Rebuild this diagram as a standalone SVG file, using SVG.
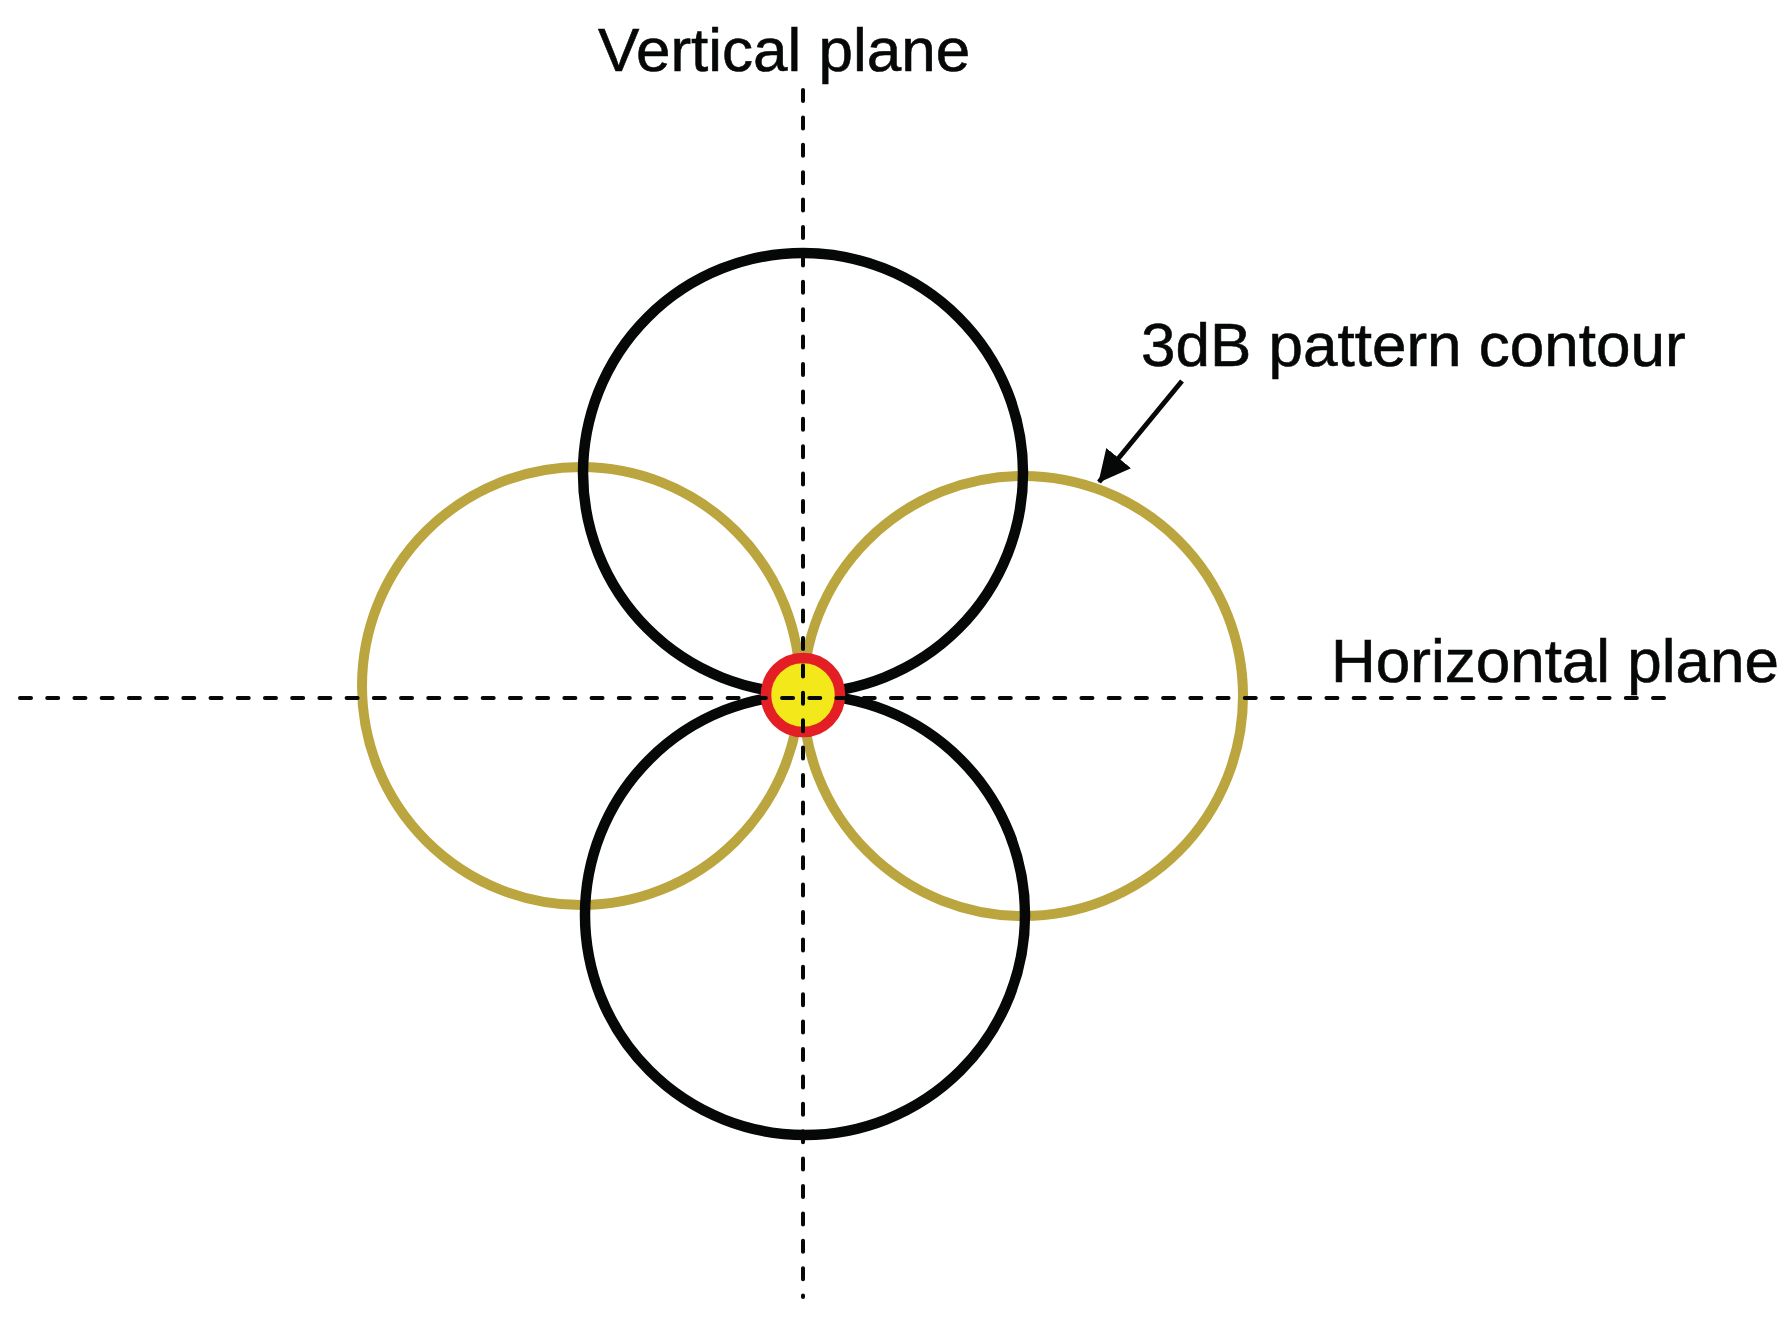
<svg xmlns="http://www.w3.org/2000/svg" width="1792" height="1321" viewBox="0 0 1792 1321">
<defs>
<style>
.gold{fill:none;stroke:#bba53f;stroke-width:10}
.blk{fill:none;stroke:#060808;stroke-width:10.5}
.dash{fill:none;stroke:#060808;stroke-width:4;stroke-dasharray:11 16.4;stroke-linecap:round}
.lbl{font-family:"Liberation Sans",Arial,sans-serif;font-size:62px;fill:#060808;stroke:#060808;stroke-width:0.6}
</style>
<marker id="ah" markerUnits="userSpaceOnUse" markerWidth="36" markerHeight="36" refX="31" refY="16" orient="auto">
<path d="M0,0 L32,16 L0,32 Z" fill="#060808"/>
</marker>
</defs>
<rect width="1792" height="1321" fill="#ffffff"/>
<g id="lobe-left"><circle class="gold" cx="581" cy="686" r="219"/></g>
<g id="lobe-right"><circle class="gold" cx="1023" cy="696" r="220"/></g>
<g id="lobe-top"><circle class="blk" cx="803" cy="473" r="220"/></g>
<g id="lobe-bottom"><circle class="blk" cx="805" cy="915" r="220"/></g>
<g id="antenna"><circle cx="803" cy="695" r="37" fill="#f2e81a" stroke="#e31e25" stroke-width="10.5"/></g>
<g id="connectors">
<line class="dash" x1="803" y1="90" x2="803" y2="1297"/>
<line class="dash" x1="20" y1="698" x2="1664" y2="698" style="stroke-dasharray:11 16.217"/>
<line x1="1182" y1="381" x2="1099" y2="482" stroke="#060808" stroke-width="5" marker-end="url(#ah)"/>
</g>
<g id="label-vertical"><text class="lbl" x="598" y="71">Vertical plane</text></g>
<g id="label-contour"><text class="lbl" x="1141" y="366">3dB pattern contour</text></g>
<g id="label-horizontal"><text class="lbl" x="1331" y="682">Horizontal plane</text></g>
</svg>
